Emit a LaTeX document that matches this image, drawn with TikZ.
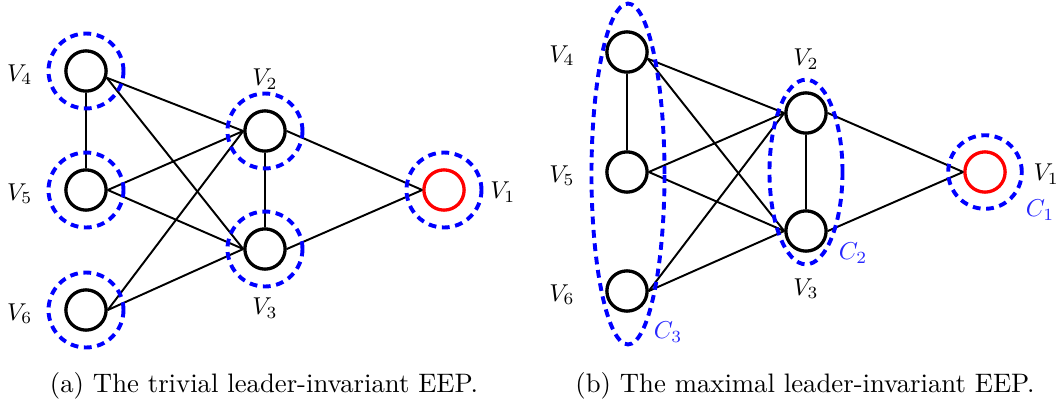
\documentclass[tikz,border=0pt]{standalone}
\usepackage{amsmath}
\usepackage{xcolor}
\usepackage{tikz}
\usetikzlibrary{positioning}

\begin{document}
\begin{tikzpicture}[
    x=0.0144cm, y=-0.0144cm,
    vtx/.style={circle, draw=black, line width=1.35pt, minimum size=0.58cm, inner sep=0pt},
    leader/.style={vtx, draw=red},
    cellline/.style={draw=blue, line width=1.6pt, dash pattern=on 3.2pt off 2.3pt},
    vlabel/.style={inner sep=3.33pt},
    clabel/.style={text=blue!85, inner sep=0pt},
    caption/.style={font=\fontsize{10.95}{13.6}\selectfont},
    edge/.style={line width=0.8pt}
  ]
  \useasboundingbox (0,0) rectangle (1062,402);

  % (a) the trivial EEP
  \node[vtx] (a4) at (86,71) {};
  \node[vtx] (a5) at (86,190) {};
  \node[vtx] (a6) at (86,310) {};
  \node[vtx] (a2) at (265,131) {};
  \node[vtx] (a3) at (265,249) {};
  \node[leader] (a1) at (444,190) {};

  \node[vlabel, left=9.5pt of a4, yshift=-1.5pt] (la4) {$V_4$};
  \node[vlabel, left=9.5pt of a5, yshift=-1.5pt] (la5) {$V_5$};
  \node[vlabel, left=9.5pt of a6, yshift=-1.5pt] (la6) {$V_6$};
  \node[vlabel, above=4.5pt of a2] (la2) {$V_2$};
  \node[vlabel, below=7.5pt of a3] (la3) {$V_3$};
  \node[vlabel, right=6.5pt of a1, yshift=-1pt] (la1) {$V_1$};

  \draw[edge] (a4) -- (a5);
  \draw[edge] (a2) -- (a3);
  \draw[edge] (a4.-18) -- (a2.west);
  \draw[edge] (a4.-18) -- (a3.west);
  \draw[edge] (a5.east) -- (a2.west);
  \draw[edge] (a5.east) -- (a3.west);
  \draw[edge] (a6.east) -- (a2.west);
  \draw[edge] (a6.east) -- (a3.west);
  \draw[edge] (a2.east) -- (a1.west);
  \draw[edge] (a3.east) -- (a1.west);

  \draw[cellline] (a4) circle[radius=0.54cm];
  \draw[cellline] (a5) circle[radius=0.54cm];
  \draw[cellline] (a6) circle[radius=0.54cm];
  \draw[cellline] (a2) circle[radius=0.54cm];
  \draw[cellline] (a3) circle[radius=0.54cm];
  \draw[cellline] (a1) circle[radius=0.54cm];

  \node[caption] (capa) at (264,386) {(a) The trivial leader-invariant EEP.};

  % (b) the maximal EEP
  \node[vtx] (b4) at (627,52) {};
  \node[vtx] (b5) at (627,172) {};
  \node[vtx] (b6) at (627,291) {};
  \node[vtx] (b2) at (806,113) {};
  \node[vtx] (b3) at (806,231) {};
  \node[leader] (b1) at (985,172) {};

  \node[vlabel, left=9pt of b4, yshift=-1.5pt] (lb4) {$V_4$};
  \node[vlabel, left=9pt of b5, yshift=-1.5pt] (lb5) {$V_5$};
  \node[vlabel, left=9pt of b6, yshift=-1.5pt] (lb6) {$V_6$};
  \node[vlabel, above=5.5pt of b2] (lb2) {$V_2$};
  \node[vlabel, below=7pt of b3] (lb3) {$V_3$};
  \node[vlabel, right=7.5pt of b1, yshift=-1pt] (lb1) {$V_1$};

  \draw[edge] (b4) -- (b5);
  \draw[edge] (b2) -- (b3);
  \draw[edge] (b4.-18) -- (b2.west);
  \draw[edge] (b4.-18) -- (b3.west);
  \draw[edge] (b5.east) -- (b2.west);
  \draw[edge] (b5.east) -- (b3.west);
  \draw[edge] (b6.east) -- (b2.west);
  \draw[edge] (b6.east) -- (b3.west);
  \draw[edge] (b2.east) -- (b1.west);
  \draw[edge] (b3.east) -- (b1.west);

  \draw[cellline] (628,174) ellipse[x radius=0.526cm, y radius=2.455cm];
  \draw[cellline] (806,172) ellipse[x radius=0.526cm, y radius=1.33cm];
  \draw[cellline] (b1) circle[radius=0.53cm];

  \node[clabel] (c1) at (1040,210) {$C_1$};
  \node[clabel] (c2) at (853,253) {$C_2$};
  \node[clabel] (c3) at (668,332) {$C_3$};

  \node[caption] (capb) at (805,386) {(b) The maximal leader-invariant EEP.};
\end{tikzpicture}
\end{document}
